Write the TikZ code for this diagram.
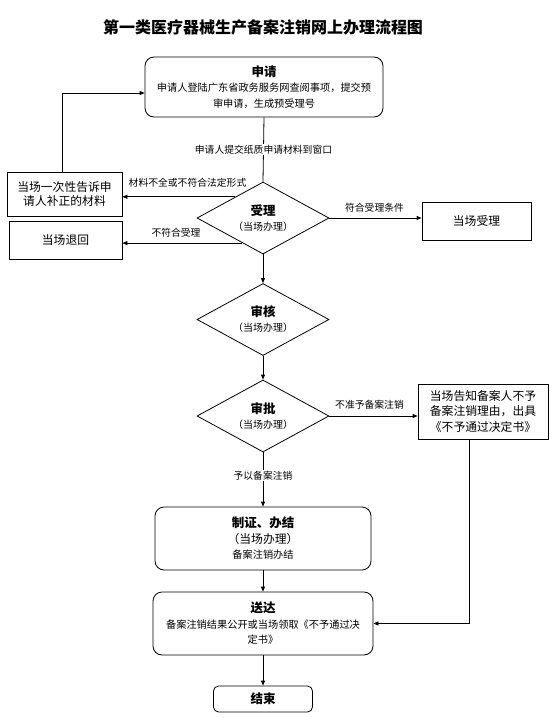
\documentclass[tikz,border=0pt]{standalone}
\usepackage{fontspec}
\setmainfont{Noto Sans CJK SC}
\usetikzlibrary{shapes.geometric,arrows.meta,calc}
\tikzset{
  box/.style={draw, line width=0.8pt, inner sep=0pt, align=center, font=\fontsize{11.8}{15}\selectfont},
  rbox/.style={box, rounded corners=9pt},
  dia/.style={draw, diamond, line width=0.8pt, inner sep=0pt, shape aspect=1.8, minimum width=132pt, minimum height=72pt, align=center, font=\fontsize{10}{15}\selectfont},
  lbl/.style={inner sep=1pt, font=\fontsize{9.8}{12}\selectfont},
  arr/.style={-{Triangle[length=5pt,width=4pt]}, line width=0.8pt},
  ln/.style={line width=0.8pt},
  hd/.style={font=\bfseries\fontsize{12.5}{15}\selectfont}
}
\newcommand{\hdr}[1]{{\bfseries\fontsize{12.5}{15}\selectfont #1}}
\begin{document}
\begin{tikzpicture}[x=1pt,y=-1pt]
\useasboundingbox[fill=white] (0,0) rectangle (555,718);
\node[font=\bfseries\fontsize{16}{18}\selectfont] (title) at (263,27) {第一类医疗器械生产备案注销网上办理流程图};
% boxes
\node[rbox, minimum width=238pt, minimum height=60pt, font=\fontsize{10.2}{15.5}\selectfont] (sq) at (264,87)
  {\hdr{申请}\\申请人登陆广东省政务服务网查阅事项，提交预\\审申请，生成预受理号};
\node[box, minimum width=115pt, minimum height=44pt, font=\fontsize{11.8}{14}\selectfont] (bz) at (64.5,194) {当场一次性告诉申\\请人补正的材料};
\node[box, minimum width=113pt, minimum height=38pt] (th) at (65.5,240) {当场退回};
\node[box, minimum width=109pt, minimum height=38pt] (sl) at (476.5,221) {当场受理};
\node[box, minimum width=130pt, minimum height=55pt, font=\fontsize{11.8}{15.5}\selectfont] (gz) at (483,411.5) {当场告知备案人不予\\备案注销理由，出具\\《不予通过决定书》};
% diamonds
\node[dia] (d1) at (263,218) {\hdr{受理}\\（当场办理）};
\node[dia] (d2) at (263,319.5) {\hdr{审核}\\（当场办理）};
\node[dia] (d3) at (263,416) {\hdr{审批}\\（当场办理）};
% lower boxes
\node[rbox, minimum width=216pt, minimum height=63pt, font=\fontsize{11.8}{15.5}\selectfont] (zz) at (263,538.5)
  {\hdr{制证、办结}\\（当场办理）\\{\fontsize{10.2}{15.5}\selectfont 备案注销办结}};
\node[rbox, minimum width=220pt, minimum height=63pt, font=\fontsize{10.2}{15.5}\selectfont] (sd) at (263,623.5)
  {\hdr{送达}\\备案注销结果公开或当场领取《不予通过决\\定书》};
\node[rbox, rounded corners=5pt, minimum width=99pt, minimum height=26pt] (js) at (263,699) {\hdr{结束}};
% connectors
\draw[ln] (sq.south) -- (d1.north) node[midway, lbl, fill=white] (l1) {申请人提交纸质申请材料到窗口};
\coordinate (p1) at ($(d1.north)!0.417!(d1.west)$);
\coordinate (p2) at ($(d1.west)!0.69!(d1.south)$);
\draw[arr] (p1) -- (p1 -| bz.east);
\draw[arr] (p2) -- (p2 -| th.east);
\draw[arr] (d1.east) -- (d1.east -| sl.west);
\draw[arr] ([xshift=-2.5pt]bz.north) |- ([yshift=-6pt]sq.west);
\draw[arr] (d1.south) -- (d2.north);
\draw[arr] (d2.south) -- (d3.north);
\draw[arr] (d3.east) -- (d3.east -| gz.west);
\draw[arr] (d3.south) -- (zz.north) node[pos=0.43, lbl, fill=white] (l6) {予以备案注销};
\draw[arr] ([xshift=-14pt]gz.south) |- (sd.east);
\draw[arr] (zz.south) -- (sd.north);
\draw[arr] (sd.south) -- (js.north);
% labels
\node[lbl] (l2) at (187.5,183) {材料不全或不符合法定形式};
\node[lbl] (l3) at (176,233) {不符合受理};
\node[lbl] (l4) at (374.5,208) {符合受理条件};
\node[lbl] (l5) at (369.5,405) {不准予备案注销};
\end{tikzpicture}
\end{document}
